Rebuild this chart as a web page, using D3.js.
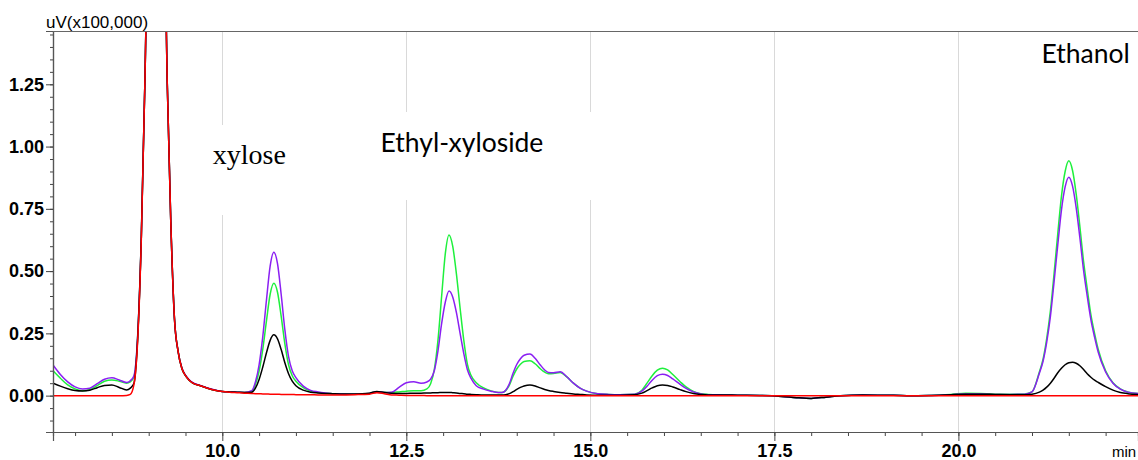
<!DOCTYPE html>
<html>
<head>
<meta charset="utf-8">
<script src="https://cdn.jsdelivr.net/npm/d3@7"></script>
<style>
  html, body { margin: 0; padding: 0; background: #ffffff; }
  svg { display: block; }
  .tick text { font-family: "Liberation Sans", Arial, sans-serif; font-weight: bold; font-size: 18px; fill: #000; }
</style>
</head>
<body>
<svg id="chart" width="1138" height="460"></svg>
<script>
// Retention times (min), shared by every trace
const times = [
  7.7, 7.8, 7.9, 8.0, 8.1, 8.2, 8.3, 8.4, 8.5, 8.6, 8.7,
  8.75, 8.8, 8.85, 8.9, 8.95, 9.0, 9.05, 9.1, 9.15, 9.2, 9.25, 9.3, 9.35, 9.4, 9.45, 9.5, 9.55, 9.6, 9.7, 9.8, 9.9, 10.0,
  10.1, 10.2, 10.3, 10.4, 10.45, 10.5, 10.55, 10.6, 10.65, 10.7, 10.75, 10.8, 10.85, 10.9, 10.95, 11.0, 11.1, 11.2, 11.3, 11.4, 11.5, 11.6, 11.8, 12.0,
  12.1, 12.2, 12.3, 12.4, 12.5, 12.6, 12.7, 12.78, 12.83, 12.88, 12.93, 12.98, 13.03, 13.08, 13.13, 13.18, 13.23, 13.28, 13.33, 13.38, 13.45, 13.55, 13.65, 13.75,
  13.8, 13.85, 13.9, 13.95, 14.0, 14.05, 14.1, 14.18, 14.25, 14.32, 14.38, 14.43, 14.5, 14.59, 14.68, 14.77, 14.86, 14.95, 15.1, 15.25,
  15.4, 15.6, 15.7, 15.77, 15.84, 15.91, 15.98, 16.05, 16.12, 16.22, 16.3, 16.4, 16.5, 16.6,
  16.8, 17.0, 17.3, 17.6, 17.8, 18.0, 18.2, 18.4, 18.7, 19.0, 19.3, 19.6, 19.9, 20.1, 20.3, 20.5, 20.7, 20.9,
  21.0, 21.1, 21.15, 21.2, 21.25, 21.3, 21.35, 21.4, 21.45, 21.5, 21.55, 21.6, 21.65, 21.7, 21.75, 21.8, 21.85, 21.9, 22.0, 22.1, 22.2, 22.3, 22.45
];

// Detector signal, uV x 100,000
const blackTrace = [
  0.050, 0.038, 0.028, 0.021, 0.019, 0.022, 0.032, 0.041, 0.043, 0.033, 0.023,
  0.030, 0.050, 0.230, 0.640, 1.280, 2.100, 2.800, 3.000, 2.800, 2.200, 1.280, 0.700, 0.310, 0.177, 0.110, 0.080, 0.062, 0.050, 0.040, 0.030, 0.022, 0.017,
  0.015, 0.014, 0.013, 0.014, 0.030, 0.065, 0.115, 0.172, 0.222, 0.244, 0.228, 0.185, 0.132, 0.088, 0.058, 0.040, 0.022, 0.014, 0.011, 0.009, 0.008, 0.007, 0.007, 0.010,
  0.017, 0.013, 0.010, 0.009, 0.009, 0.010, 0.010, 0.011, 0.011, 0.012, 0.012, 0.013, 0.013, 0.013, 0.012, 0.011, 0.009, 0.008, 0.006, 0.005, 0.004, 0.003, 0.003, 0.003,
  0.003, 0.004, 0.008, 0.016, 0.025, 0.033, 0.039, 0.043, 0.039, 0.031, 0.025, 0.021, 0.017, 0.013, 0.010, 0.007, 0.005, 0.003, 0.002, 0.002,
  0.002, 0.004, 0.010, 0.020, 0.031, 0.040, 0.043, 0.041, 0.035, 0.024, 0.016, 0.009, 0.005, 0.003,
  0.003, 0.002, 0.001, -0.003, -0.008, -0.011, -0.006, 0.000, 0.003, 0.002, 0.000, 0.001, 0.004, 0.006, 0.006, 0.005, 0.004, 0.004,
  0.006, 0.014, 0.022, 0.034, 0.050, 0.070, 0.092, 0.110, 0.124, 0.132, 0.134, 0.130, 0.120, 0.105, 0.088, 0.074, 0.062, 0.053, 0.036, 0.022, 0.013, 0.008, 0.004
];

const greenTrace = [
  0.100, 0.070, 0.043, 0.027, 0.020, 0.024, 0.040, 0.058, 0.063, 0.058, 0.050,
  0.055, 0.075, 0.235, 0.640, 1.280, 2.100, 2.800, 3.000, 2.800, 2.200, 1.280, 0.700, 0.310, 0.177, 0.110, 0.080, 0.062, 0.050, 0.040, 0.030, 0.022, 0.017,
  0.015, 0.014, 0.013, 0.018, 0.045, 0.099, 0.187, 0.300, 0.407, 0.451, 0.415, 0.318, 0.208, 0.124, 0.080, 0.058, 0.032, 0.018, 0.013, 0.010, 0.008, 0.007, 0.006, 0.009,
  0.016, 0.014, 0.013, 0.015, 0.018, 0.020, 0.020, 0.027, 0.048, 0.104, 0.223, 0.400, 0.571, 0.645, 0.600, 0.490, 0.353, 0.224, 0.125, 0.081, 0.052, 0.031, 0.019, 0.013,
  0.013, 0.020, 0.042, 0.078, 0.107, 0.126, 0.137, 0.140, 0.128, 0.108, 0.094, 0.088, 0.089, 0.093, 0.075, 0.050, 0.030, 0.018, 0.008, 0.005,
  0.004, 0.006, 0.022, 0.050, 0.080, 0.102, 0.110, 0.103, 0.085, 0.056, 0.035, 0.017, 0.008, 0.005,
  0.003, 0.002, 0.001, -0.003, -0.008, -0.011, -0.006, 0.000, 0.003, 0.002, 0.000, 0.001, 0.005, 0.010, 0.009, 0.006, 0.006, 0.007,
  0.015, 0.095, 0.146, 0.230, 0.340, 0.490, 0.650, 0.800, 0.900, 0.943, 0.905, 0.810, 0.680, 0.540, 0.430, 0.325, 0.250, 0.185, 0.100, 0.052, 0.027, 0.015, 0.008
];

const purpleTrace = [
  0.123, 0.085, 0.055, 0.035, 0.027, 0.030, 0.048, 0.066, 0.072, 0.063, 0.053,
  0.060, 0.080, 0.240, 0.640, 1.280, 2.100, 2.800, 3.000, 2.800, 2.200, 1.280, 0.700, 0.310, 0.177, 0.112, 0.082, 0.064, 0.052, 0.041, 0.031, 0.023, 0.017,
  0.015, 0.014, 0.013, 0.020, 0.055, 0.124, 0.237, 0.384, 0.520, 0.576, 0.530, 0.406, 0.264, 0.157, 0.100, 0.072, 0.038, 0.021, 0.015, 0.011, 0.008, 0.007, 0.006, 0.009,
  0.016, 0.013, 0.014, 0.033, 0.052, 0.056, 0.050, 0.055, 0.066, 0.100, 0.180, 0.290, 0.376, 0.420, 0.396, 0.334, 0.251, 0.170, 0.104, 0.069, 0.040, 0.026, 0.018, 0.013,
  0.013, 0.022, 0.048, 0.090, 0.125, 0.148, 0.162, 0.167, 0.150, 0.123, 0.103, 0.093, 0.092, 0.096, 0.076, 0.050, 0.030, 0.018, 0.008, 0.005,
  0.004, 0.006, 0.018, 0.038, 0.062, 0.080, 0.086, 0.081, 0.067, 0.045, 0.029, 0.015, 0.007, 0.004,
  0.003, 0.002, 0.001, -0.003, -0.008, -0.011, -0.006, 0.000, 0.003, 0.002, 0.000, 0.001, 0.004, 0.007, 0.007, 0.005, 0.005, 0.006,
  0.015, 0.090, 0.138, 0.215, 0.318, 0.458, 0.605, 0.745, 0.838, 0.877, 0.842, 0.755, 0.635, 0.505, 0.400, 0.305, 0.235, 0.174, 0.095, 0.050, 0.026, 0.014, 0.008
];

const redTrace = [
  0, 0, 0, 0, 0, 0, 0, 0, 0, 0, 0.001,
  0.005, 0.045, 0.220, 0.630, 1.280, 2.100, 2.800, 3.000, 2.800, 2.200, 1.280, 0.700, 0.310, 0.177, 0.110, 0.080, 0.062, 0.050, 0.040, 0.030, 0.022, 0.017,
  0.014, 0.012, 0.010, 0.009, 0.008, 0.008, 0.007, 0.007, 0.006, 0.006, 0.006, 0.005, 0.005, 0.005, 0.005, 0.004, 0.004, 0.004, 0.003, 0.003, 0.003, 0.003, 0.004, 0.006,
  0.012, 0.008, 0.003, 0.002, 0.001, 0.001, 0.001, 0, 0, 0, 0, 0, 0, 0, 0, 0, 0, 0, 0, 0, 0, 0, 0, 0,
  0, 0, 0, 0, 0, 0, 0, 0, 0, 0, 0, 0, 0, 0, 0, 0, 0, 0, 0, 0,
  0, 0, 0, 0, 0, 0, 0, 0, 0, 0, 0, 0, 0, 0,
  0, 0, 0, 0, 0, 0, 0, 0, 0, 0, 0, 0, 0, 0, 0, 0, 0, 0,
  0, 0, 0, 0, 0, 0, 0, 0, 0, 0, 0, 0, 0, 0, 0, 0, 0, 0, 0, 0, 0, 0, 0
];

// Axis ticks
const yMajorTicks = [0.00, 0.25, 0.50, 0.75, 1.00, 1.25];
const yMinorTicks = [-0.10, -0.05, 0.00, 0.05, 0.10, 0.15, 0.20, 0.25, 0.30, 0.35, 0.40, 0.45, 0.50, 0.55, 0.60,
                     0.65, 0.70, 0.75, 0.80, 0.85, 0.90, 0.95, 1.00, 1.05, 1.10, 1.15, 1.20, 1.25, 1.30, 1.35, 1.40, 1.45];
const xMajorTicks = [10.0, 12.5, 15.0, 17.5, 20.0];
const xMinorTicks = [8.0, 8.5, 9.0, 9.5, 10.0, 10.5, 11.0, 11.5, 12.0, 12.5, 13.0, 13.5, 14.0, 14.5, 15.0, 15.5,
                     16.0, 16.5, 17.0, 17.5, 18.0, 18.5, 19.0, 19.5, 20.0, 20.5, 21.0, 21.5, 22.0];

// Peak names
const peakNames = ["xylose", "Ethyl-xyloside", "Ethanol"];

const svg = d3.select("#chart");
const plotLeft = 53, plotRight = 1138, plotTop = 31, plotBottom = 432;

const x = d3.scaleLinear().domain([7.70, 22.44]).range([plotLeft, plotRight]);
const y = d3.scaleLinear().domain([-0.146, 1.464]).range([plotBottom, plotTop]);

svg.append("defs").append("clipPath").attr("id", "plotClip")
  .append("rect").attr("x", plotLeft).attr("y", plotTop)
  .attr("width", plotRight - plotLeft).attr("height", plotBottom - plotTop);

// vertical grid at labelled times
svg.append("g").selectAll("line").data(xMajorTicks).join("line")
  .attr("x1", d => Math.round(x(d)) + 0.5).attr("x2", d => Math.round(x(d)) + 0.5)
  .attr("y1", plotTop).attr("y2", plotBottom)
  .attr("stroke", "#d9d9d9").attr("stroke-width", 1);

// white label boxes sit over the grid
const boxes = svg.append("g");
boxes.append("rect").attr("x", x(9.78)).attr("y", 125).attr("width", 92).attr("height", 90).attr("fill", "#fff");
boxes.append("rect").attr("x", x(12.05)).attr("y", 112).attr("width", 226).attr("height", 88).attr("fill", "#fff");

// traces
const line = d3.line()
  .x((d, i) => x(times[i]))
  .y(d => y(d))
  .curve(d3.curveMonotoneX);

const traces = [
  { values: greenTrace, color: "#1ef03c" },
  { values: purpleTrace, color: "#8a1ff2" },
  { values: blackTrace, color: "#000000" },
  { values: redTrace, color: "#ff0000" }
];

const plot = svg.append("g").attr("clip-path", "url(#plotClip)");
plot.selectAll("path").data(traces).join("path")
  .attr("d", d => line(d.values))
  .attr("fill", "none")
  .attr("stroke", d => d.color)
  .attr("stroke-width", 1.5)
  .attr("stroke-linejoin", "round");

// axes
const yMinor = svg.append("g").attr("transform", `translate(${plotLeft},0)`)
  .call(d3.axisLeft(y).tickValues(yMinorTicks).tickSize(3).tickFormat(""));
const yMajor = svg.append("g").attr("transform", `translate(${plotLeft},0)`)
  .call(d3.axisLeft(y).tickValues(yMajorTicks).tickSize(7).tickPadding(2).tickFormat(d3.format(".2f")));
const xMinor = svg.append("g").attr("transform", `translate(0,${plotBottom})`)
  .call(d3.axisBottom(x).tickValues(xMinorTicks).tickSize(4).tickFormat(""));
const xMajor = svg.append("g").attr("transform", `translate(0,${plotBottom})`)
  .call(d3.axisBottom(x).tickValues(xMajorTicks).tickSize(9).tickPadding(3).tickFormat(d3.format(".1f")));

[yMinor, yMajor, xMinor, xMajor].forEach(g => {
  g.select(".domain").attr("stroke", "#555").attr("stroke-width", 1.2);
  g.selectAll(".tick line").attr("stroke", "#444").attr("stroke-width", 1);
});

// top frame
svg.append("line").attr("x1", plotLeft).attr("x2", plotRight).attr("y1", plotTop + 0.5).attr("y2", plotTop + 0.5)
  .attr("stroke", "#666").attr("stroke-width", 1.2);

// unit labels
svg.append("text").attr("x", 46).attr("y", 28)
  .attr("font-family", "Liberation Sans, Arial, sans-serif").attr("font-size", 17)
  .text("uV(x100,000)");
svg.append("text").attr("x", 1112).attr("y", 457)
  .attr("font-family", "Liberation Sans, Arial, sans-serif").attr("font-size", 15)
  .text("min");

// peak names
svg.append("text").attr("x", x(9.87)).attr("y", y(0.93))
  .attr("font-family", "Liberation Serif, Times New Roman, serif").attr("font-size", 28)
  .text(peakNames[0]);
svg.append("text").attr("x", x(12.15)).attr("y", y(0.978))
  .attr("font-family", "Lato, Carlito, sans-serif").attr("font-size", 26.5)
  .text(peakNames[1]);
svg.append("text").attr("x", x(21.13)).attr("y", y(1.335))
  .attr("font-family", "Lato, Carlito, sans-serif").attr("font-size", 26.5)
  .text(peakNames[2]);
</script>
</body>
</html>
